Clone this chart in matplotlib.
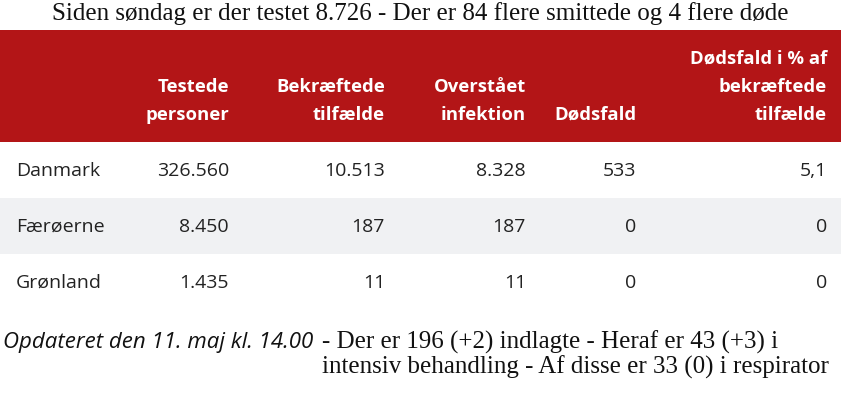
import matplotlib.pyplot as plt
from matplotlib.patches import Rectangle

# table content
title = "Siden søndag er der testet 8.726 - Der er 84 flere smittede og 4 flere døde"
countries = ["Danmark", "Færøerne", "Grønland"]
testede = ["326.560", "8.450", "1.435"]
bekraeftede = ["10.513", "187", "11"]
overstaaet = ["8.328", "187", "11"]
doedsfald = ["533", "0", "0"]
pct = ["5,1", "0", "0"]
headers = [["Testede", "personer"], ["Bekræftede", "tilfælde"],
           ["Overstået", "infektion"], ["Dødsfald"],
           ["Dødsfald i % af", "bekræftede", "tilfælde"]]
updated = "Opdateret den 11. maj kl. 14.00"
note_lines = ["- Der er 196 (+2) indlagte - Heraf er 43 (+3) i",
              "intensiv behandling - Af disse er 33 (0) i respirator"]

red = "#b31517"
gray = "#f0f1f3"
sans = "Open Sans"
serif = "Liberation Serif"

fig = plt.figure(figsize=(8.44, 4.10), dpi=100)
ax = fig.add_axes([0, 0, 1, 1])
ax.set_xlim(0, 844)
ax.set_ylim(410, 0)
ax.axis("off")

ax.text(420, 14, title, ha="center", va="center", family=serif, fontsize=18, color="#111111")

# header
ax.add_patch(Rectangle((0, 31), 841, 112, color=red, lw=0))
col_right = [229, 385, 526, 636, 827]
line_y = [58, 87, 115]
for x, lines in zip(col_right, headers):
    ys = line_y[-len(lines):]
    for y, s in zip(ys, lines):
        ax.text(x, y, s, ha="right", va="center", family=sans, weight="bold",
                fontsize=13.3, color="white")

# body rows
row_h = 56
columns = [testede, bekraeftede, overstaaet, doedsfald, pct]
for i, c in enumerate(countries):
    top = 143 + i * row_h
    if i % 2 == 1:
        ax.add_patch(Rectangle((0, top), 841, row_h, color=gray, lw=0))
    yc = top + row_h / 2
    ax.text(16, yc, c, ha="left", va="center", family=sans, fontsize=14, color="#222222")
    for x, col in zip(col_right, columns):
        ax.text(x, yc, col[i], ha="right", va="center", family=sans, fontsize=14,
                color="#222222")

# footer
ax.text(3, 343, updated, ha="left", va="center", family=sans, style="italic",
        fontsize=16, color="#111111")
for k, s in enumerate(note_lines):
    ax.text(322, 342 + k * 25, s, ha="left", va="center", family=serif,
            fontsize=18, color="#111111")

fig.savefig("out.png", dpi=100)
